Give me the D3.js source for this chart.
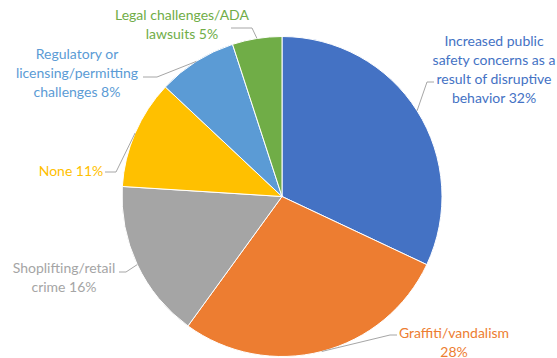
<!DOCTYPE html>
<html lang="en">
<head>
<meta charset="UTF-8">
<title>Concerns pie</title>
<style>
  body { margin: 0; background: #fff; }
  svg { display: block; }
  .label { font-family: Lato, "Open Sans", sans-serif; font-size: 14px; }
  .leader { fill: none; stroke: #a6a6a6; stroke-width: 1; }
</style>
</head>
<body>
<div id="chart"></div>
<script src="https://d3js.org/d3.v7.min.js"></script>
<script>
// chart data
const categories = [
  "Increased public safety concerns as a result of disruptive behavior",
  "Graffiti/vandalism",
  "Shoplifting/retail crime",
  "None",
  "Regulatory or licensing/permitting challenges",
  "Legal challenges/ADA lawsuits"
];
const shares = [32, 28, 16, 11, 8, 5];
const colors = ["#4472C4", "#ED7D31", "#A5A5A5", "#FFC000", "#5B9BD5", "#70AD47"];

// label text wrapping, as in the picture
const labelLines = [
  ["Increased public", "safety concerns as a", "result of disruptive", "behavior 32%"],
  ["Graffiti/vandalism", "28%"],
  ["Shoplifting/retail", "crime 16%"],
  ["None 11%"],
  ["Regulatory or", "licensing/permitting", "challenges 8%"],
  ["Legal challenges/ADA", "lawsuits 5%"]
];

// label placement (text centre, first line y, leader elbow + end)
const labelPos = [
  { x: 494, y: 40, elbow: [427, 82], end: [434, 82] },
  { x: 454, y: 332, elbow: [390, 335], end: [397, 335] },
  { x: 64, y: 267, elbow: [126, 272], end: [119, 272] },
  { x: 71, y: 170, elbow: [116, 172], end: [105, 172] },
  { x: 77, y: 53, elbow: [157, 77], end: [143, 77] },
  { x: 182, y: 14, elbow: [252, 28], end: [231, 28] }
];

const width = 557, height = 358;
const cx = 282, cy = 196.5, radius = 160;
const lineH = 19;

const svg = d3.select("#chart").append("svg")
  .attr("width", width)
  .attr("height", height);

const pie = d3.pie().sort(null).value(d => d)(shares);
const arc = d3.arc().innerRadius(0).outerRadius(radius);

const g = svg.append("g").attr("transform", `translate(${cx},${cy})`);

g.selectAll("path.slice")
  .data(pie)
  .enter()
  .append("path")
  .attr("class", "slice")
  .attr("d", arc)
  .attr("fill", (d, i) => colors[i])
  .attr("stroke", "#fff")
  .attr("stroke-width", 1);

// leader lines from the middle of each slice's rim
svg.selectAll("polyline.leader")
  .data(pie)
  .enter()
  .append("polyline")
  .attr("class", "leader")
  .attr("points", (d, i) => {
    const a = (d.startAngle + d.endAngle) / 2;
    const p0 = [cx + radius * Math.sin(a), cy - radius * Math.cos(a)];
    return [p0, labelPos[i].elbow, labelPos[i].end].map(p => p.join(",")).join(" ");
  });

// labels
labelLines.forEach((lines, i) => {
  const t = svg.append("text")
    .attr("class", "label")
    .attr("fill", colors[i])
    .attr("text-anchor", "middle")
    .attr("aria-label", categories[i]);
  lines.forEach((ln, j) => {
    t.append("tspan")
      .attr("x", labelPos[i].x)
      .attr("y", labelPos[i].y + j * lineH)
      .attr("dominant-baseline", "central")
      .text(ln);
  });
});
</script>
</body>
</html>
